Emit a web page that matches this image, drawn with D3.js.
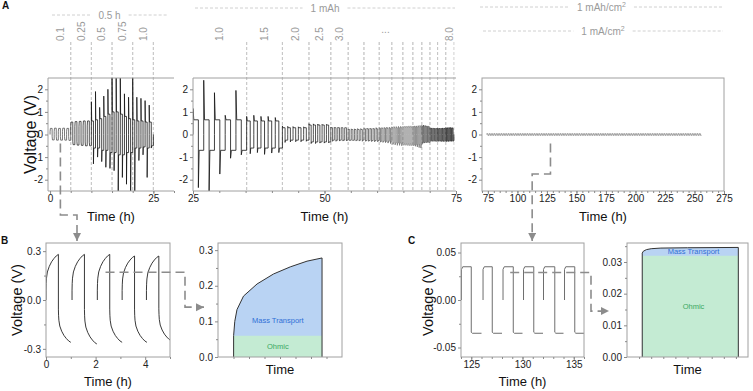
<!DOCTYPE html>
<html>
<head>
<meta charset="utf-8">
<script src="https://cdn.jsdelivr.net/npm/d3@7"></script>
<style>
  body { margin: 0; background: #fff; }
  svg { display: block; font-family: "Liberation Sans", Arial, sans-serif; }
  .tick text { font-family: "Liberation Sans Narrow", "Arial Narrow", "Liberation Sans", sans-serif; font-size: 10px; fill: #222; }
  .tick line { stroke: #8a8a8a; }
  .frame { fill: none; stroke: #a0a0a0; stroke-width: 1; }
  .title { font-size: 13px; fill: #111; }
  .note { font-size: 10px; fill: #9a9a9a; }
  .guide { stroke: #c4c4c4; stroke-width: 0.8; stroke-dasharray: 3,2; fill: none; }
  .conn { stroke: #8c8c8c; stroke-width: 1.6; stroke-dasharray: 9,5; fill: none; }
  .letter { font-size: 10px; font-weight: bold; fill: #111; }
</style>
</head>
<body>
<svg id="fig" width="753" height="391"></svg>
<script>

/////////////////////////////////////////////////////////////////
// Values
/////////////////////////////////////////////////////////////////

// A, first block: 0.5 h per half cycle, five current densities (mA/cm2)
var a1Bounds  = [0, 5, 10, 15, 20, 25];
var a1Labels  = ["0.1", "0.25", "0.5", "0.75", "1.0"];
var a1Title   = "0.5 h";
// one entry per 1 h cycle: first point after switching, plateau (V)
var a1UpSpike = [0.12, 0.13, 0.12, 0.13, 0.12,  0.35, 0.36, 0.36, 0.38, 0.38,
                 1.45, 1.9, 1.2, 1.7, 2.0,      2.6, 2.6, 2.6, 1.8, 1.65,
                 2.6, 1.65, 1.6, 1.5, 1.3];
var a1UpPlat  = [0.27, 0.28, 0.27, 0.28, 0.27,  0.55, 0.57, 0.58, 0.6, 0.6,
                 0.6, 0.65, 0.7, 0.8, 0.9,      1.0, 1.0, 0.9, 0.8, 0.7,
                 0.65, 0.6, 0.6, 0.55, 0.55];
var a1DnSpike = [-0.08, -0.08, -0.09, -0.09, -0.09,  -0.3, -0.32, -0.33, -0.33, -0.34,
                 -1.3, -1.0, -1.2, -1.45, -1.5,      -1.6, -2.6, -1.9, -2.2, -2.6,
                 -2.6, -1.15, -0.9, -1.9, -0.6];
var a1DnPlat  = [-0.24, -0.25, -0.25, -0.25, -0.26,  -0.45, -0.47, -0.48, -0.5, -0.5,
                 -0.6, -0.6, -0.7, -0.7, -0.8,        -0.8, -0.9, -0.9, -0.8, -0.8,
                 -0.6, -0.6, -0.55, -0.6, -0.5];

// A, second block: 1 mAh per half cycle, current density steps (mA/cm2)
var a2Bounds  = [25, 35.2, 42.0, 47.05, 51.2, 54.5, 57.5, 60.4, 62.8, 64.9,
                 66.8, 68.5, 70.05, 71.5, 73.05, 74.6];
var a2Labels  = ["1.0", "1.5", "2.0", "2.5", "3.0", "", "", "", "", "", "", "", "", "", "8.0"];
var a2Title   = "1 mAh";
var a2UpPlat  = [0.65, 0.6, 0.3, 0.42, 0.3, 0.22, 0.25, 0.28, 0.3, 0.32, 0.34, 0.36, 0.26, 0.26, 0.28];
var a2DnPlat  = [-0.7, -0.6, -0.25, -0.33, -0.25, -0.25, -0.27, -0.3, -0.38, -0.42, -0.45, -0.35, -0.28, -0.28, -0.28];
var a2UpSpike = [[1.15, 2.4, 1.85, 0.85, 1.95], [0.8, 0.85, 0.8, 0.8, 0.75], [0.38, 0.36, 0.35, 0.34, 0.34],
                 [0.48, 0.47, 0.46, 0.45, 0.45], [0.33, 0.32, 0.32, 0.31, 0.3], [0.25, 0.25, 0.25, 0.26, 0.26],
                 [0.27, 0.28, 0.28, 0.28, 0.3], [0.3, 0.3, 0.31, 0.32, 0.32], [0.34, 0.35, 0.35, 0.36, 0.36],
                 [0.36, 0.37, 0.37, 0.38, 0.38], [0.37, 0.38, 0.38, 0.39, 0.4], [0.4, 0.42, 0.4, 0.38, 0.36],
                 [0.3, 0.29, 0.29, 0.28, 0.28], [0.28, 0.28, 0.28, 0.29, 0.29], [0.3, 0.3, 0.31, 0.31, 0.3]];
var a2DnSpike = [[-2.35, -2.5, -1.75, -1.05, -0.9], [-0.85, -0.8, -0.88, -0.82, -0.8], [-0.35, -0.33, -0.32, -0.32, -0.3],
                 [-0.4, -0.4, -0.38, -0.38, -0.37], [-0.3, -0.3, -0.29, -0.29, -0.28], [-0.28, -0.28, -0.29, -0.29, -0.3],
                 [-0.3, -0.3, -0.31, -0.32, -0.32], [-0.34, -0.35, -0.36, -0.38, -0.4], [-0.44, -0.46, -0.48, -0.48, -0.5],
                 [-0.48, -0.48, -0.49, -0.5, -0.5], [-0.5, -0.52, -0.55, -0.58, -0.6], [-0.4, -0.38, -0.36, -0.34, -0.32],
                 [-0.3, -0.3, -0.3, -0.3, -0.31], [-0.3, -0.3, -0.31, -0.31, -0.31], [-0.31, -0.31, -0.3, -0.3, -0.3]];

// A, third block: 1 mAh/cm2 at 1 mA/cm2
var a3Title1  = "1 mAh/cm";
var a3Title2  = "1 mA/cm";
var a3Start   = 74;
var a3End     = 255;
var a3Up      = 0.035;
var a3Dn      = -0.035;

// B: zoom of the first 5 h, 0.1 mA/cm2
var bStarts   = [0, 1.05, 2.07, 3.07, 4.05];
var bHalf     = 0.5;
var bPeak     = [0.28, 0.28, 0.28, 0.27, 0.27];
var bTrough   = [-0.26, -0.27, -0.26, -0.26, -0.25];
var bProfT    = [0, 0, 0.013, 0.038, 0.112, 0.265, 0.451, 0.641, 0.83, 1];
var bProfV    = [0, 0.06, 0.10, 0.133, 0.171, 0.205, 0.233, 0.253, 0.269, 0.278];
var bProfFrom = 0.126;
var bProfTo   = 0.839;
var bOhmic    = 0.06;

// C: zoom of 124-136 h at 1 mA/cm2
var cStarts   = [124.05, 126.15, 128.1, 130.1, 132.05, 134.1];
var cSwitch   = [125.0, 127.05, 129.1, 131.1, 133.15, 135.1];
var cEnds     = [126.0, 128.0, 130.0, 132.0, 134.0, 136.0];
var cHigh     = 0.035;
var cLow      = -0.035;
var cProfT    = [0.126, 0.126, 0.135, 0.16, 0.2, 0.28, 0.5, 0.92, 0.92];
var cProfV    = [0, 0.0328, 0.0334, 0.0339, 0.0342, 0.0344, 0.0345, 0.0346, 0];
var cOhmic    = 0.032;

var massLabel  = "Mass Transport";
var ohmicLabel = "Ohmic";

/////////////////////////////////////////////////////////////////
// Scales
/////////////////////////////////////////////////////////////////

var svg = d3.select("#fig");
var defs = svg.append("defs");

var yA  = d3.scaleLinear().domain([-2.5, 2.5]).range([191, 78]);
var xA1 = d3.scaleLinear().domain([-0.5, 30]).range([48, 174]);
var xA2 = d3.scaleLinear().domain([25, 75]).range([193, 456]);
var xA3 = d3.scaleLinear().domain([70, 275]).range([482, 724]);

var xB  = d3.scaleLinear().domain([0, 5]).range([46, 170]);
var yB  = d3.scaleLinear().domain([-0.35, 0.35]).range([357, 243]);
var xBr = d3.scaleLinear().domain([0, 1]).range([218, 342]);
var yBr = d3.scaleLinear().domain([0, 0.32]).range([357, 243]);

var xC  = d3.scaleLinear().domain([124, 136]).range([461, 584]);
var yC  = d3.scaleLinear().domain([-0.06, 0.06]).range([357, 243]);
var xCr = d3.scaleLinear().domain([0, 1]).range([627, 748]);
var yCr = d3.scaleLinear().domain([0, 0.036]).range([357, 243]);

/////////////////////////////////////////////////////////////////
// Helpers
/////////////////////////////////////////////////////////////////

var clipCount = 0;
function clipFor(x, y) {
    var id = "clip" + (clipCount++);
    defs.append("clipPath").attr("id", id)
        .append("rect")
        .attr("x", x.range()[0]).attr("y", y.range()[1])
        .attr("width", x.range()[1] - x.range()[0])
        .attr("height", y.range()[0] - y.range()[1]);
    return "url(#" + id + ")";
}

function drawFrame(x, y, full) {
    var r = x.range(), t = y.range();
    if (full) {
        svg.append("rect").attr("class", "frame")
           .attr("x", r[0]).attr("y", t[1])
           .attr("width", r[1] - r[0]).attr("height", t[0] - t[1]);
    } else {
        svg.append("path").attr("class", "frame")
           .attr("d", "M" + r[0] + "," + t[1] + "H" + r[1] +
                      "M" + r[0] + "," + t[1] + "V" + t[0] + "H" + r[1]);
    }
}

function drawAxes(x, y, o) {
    var gx = svg.append("g")
        .attr("transform", "translate(0," + y.range()[0] + ")")
        .call(d3.axisBottom(x).tickValues(o.xTicks).tickSize(3).tickPadding(1)
                .tickFormat(o.xFmt || function(d) { return String(d); }));
    gx.select(".domain").remove();
    if (o.xMinor) {
        svg.append("g")
           .attr("transform", "translate(0," + y.range()[0] + ")")
           .call(d3.axisBottom(x).tickValues(o.xMinor).tickSize(2).tickFormat(""))
           .select(".domain").remove();
    }
    var gy = svg.append("g")
        .attr("transform", "translate(" + x.range()[0] + ",0)")
        .call(d3.axisLeft(y).tickValues(o.yTicks).tickSize(3).tickPadding(2)
                .tickFormat(o.yFmt || function(d) { return String(d); }));
    gy.select(".domain").remove();
    if (o.yMinor) {
        svg.append("g")
           .attr("transform", "translate(" + x.range()[0] + ",0)")
           .call(d3.axisLeft(y).tickValues(o.yMinor).tickSize(2).tickFormat(""))
           .select(".domain").remove();
    }
}

function xTitle(x, y, txt, off) {
    svg.append("text").attr("class", "title")
       .attr("x", (x.range()[0] + x.range()[1]) / 2)
       .attr("y", y.range()[0] + off)
       .attr("text-anchor", "middle")
       .text(txt);
}

function yTitle(cx, y, txt, size) {
    svg.append("text").attr("class", "title")
       .attr("transform", "translate(" + cx + "," + (y.range()[0] + y.range()[1]) / 2 + ") rotate(-90)")
       .attr("text-anchor", "middle").attr("dy", "0.35em")
       .style("font-size", size + "px")
       .text(txt);
}

// one charge / discharge cycle: spike right after switching, then plateau
function cycle(t0, h, upS, upP, dnS, dnP) {
    return [[t0, 0], [t0, upS], [t0 + 0.15 * h, upP], [t0 + h, upP],
            [t0 + h, dnS], [t0 + 1.15 * h, dnP], [t0 + 2 * h, dnP], [t0 + 2 * h, 0]];
}

function range(a, b, step) { return d3.range(a, b + step / 2, step); }

/////////////////////////////////////////////////////////////////
// Panel A
/////////////////////////////////////////////////////////////////

var a1Colors = ["#555", "#2a2a2a", "#151515", "#111", "#151515"];
var a2Colors = ["#111", "#151515", "#222", "#2a2a2a", "#444", "#555", "#555", "#666",
                "#777", "#888", "#777", "#555", "#444", "#333", "#222"];

// guides: section boundaries running up to the rotated labels
function sectionGuides(x, bounds, labels, skipFirst) {
    bounds.forEach(function(b, i) {
        if (skipFirst && i === 0) return;
        svg.append("line").attr("class", "guide")
           .attr("x1", x(b)).attr("x2", x(b))
           .attr("y1", 42).attr("y2", yA.range()[0]);
    });
    labels.forEach(function(l, i) {
        if (!l) return;
        var cx = x((bounds[i] + bounds[i + 1]) / 2);
        svg.append("text").attr("class", "note")
           .attr("transform", "translate(" + cx + ",41) rotate(-90)")
           .attr("dy", "0.35em")
           .text(l);
    });
}

function headerLine(y, x0, x1, txt, sup) {
    var t = svg.append("text").attr("class", "note")
       .attr("x", (x0 + x1) / 2).attr("y", y + 3.5)
       .attr("text-anchor", "middle")
       .text(txt);
    if (sup) t.append("tspan").attr("dy", -4).style("font-size", "7px").text(sup);
    var w = t.node().getComputedTextLength();
    var cx = (x0 + x1) / 2;
    svg.append("line").attr("class", "guide").attr("x1", x0).attr("x2", cx - w / 2 - 8).attr("y1", y).attr("y2", y);
    svg.append("line").attr("class", "guide").attr("x1", cx + w / 2 + 8).attr("x2", x1).attr("y1", y).attr("y2", y);
}

sectionGuides(xA1, a1Bounds.slice(1), [], false);
sectionGuides(xA1, a1Bounds, a1Labels, true);
sectionGuides(xA2, a2Bounds.slice(1, a2Bounds.length - 1), [], false);
sectionGuides(xA2, a2Bounds, a2Labels, true);
svg.append("text").attr("class", "note")
   .attr("x", xA2((a2Bounds[7] + a2Bounds[8]) / 2)).attr("y", 33)
   .attr("text-anchor", "middle").text("...");

headerLine(15, 52, 167, a1Title);
headerLine(8, 195, 455, a2Title);
headerLine(7, 480, 723, a3Title1, "2");
headerLine(31, 483, 723, a3Title2, "2");

var line = function(x, y) {
    return d3.line().x(function(d) { return x(d[0]); }).y(function(d) { return y(d[1]); });
};

// A1 data
var gA1 = svg.append("g").attr("clip-path", clipFor(xA1, yA));
a1UpSpike.forEach(function(v, i) {
    var s = Math.floor(i / 5);
    var t0 = a1Bounds[s] + (i % 5);
    gA1.append("path")
       .attr("d", line(xA1, yA)(cycle(t0, 0.5, a1UpSpike[i], a1UpPlat[i], a1DnSpike[i], a1DnPlat[i])))
       .attr("fill", "none").attr("stroke", a1Colors[s]).attr("stroke-width", 0.8);
});

// A2 data
var gA2 = svg.append("g").attr("clip-path", clipFor(xA2, yA));
a2UpPlat.forEach(function(p, s) {
    var len = (a2Bounds[s + 1] - a2Bounds[s]) / 5;
    for (var k = 0; k < 5; k++) {
        var t0 = a2Bounds[s] + k * len;
        gA2.append("path")
           .attr("d", line(xA2, yA)(cycle(t0, len / 2, a2UpSpike[s][k], a2UpPlat[s], a2DnSpike[s][k], a2DnPlat[s])))
           .attr("fill", "none").attr("stroke", a2Colors[s]).attr("stroke-width", 0.8);
    }
});

// A3 data
var a3Pts = [];
for (var t = a3Start; t < a3End; t += 2) {
    a3Pts.push([t, 0], [t, a3Up], [t + 1, a3Up], [t + 1, a3Dn], [t + 2, a3Dn]);
}
svg.append("path").attr("d", line(xA3, yA)(a3Pts))
   .attr("fill", "none").attr("stroke", "#777").attr("stroke-width", 0.7);

drawFrame(xA1, yA, false);
drawFrame(xA2, yA, false);
drawFrame(xA3, yA, true);

var aYOpts = {yTicks: [-2, -1, 0, 1, 2], yMinor: [-1.5, -0.5, 0.5, 1.5]};
drawAxes(xA1, yA, Object.assign({xTicks: [0, 25], xMinor: range(5, 30, 5)}, aYOpts));
drawAxes(xA2, yA, Object.assign({xTicks: [25, 50, 75], xMinor: range(30, 70, 5)}, aYOpts));
drawAxes(xA3, yA, Object.assign({xTicks: range(75, 275, 25), xMinor: range(70, 275, 5)}, aYOpts));

xTitle(xA1, yA, "Time (h)", 30);
xTitle(xA2, yA, "Time (h)", 30);
xTitle(xA3, yA, "Time (h)", 30);
yTitle(30, yA, "Voltage (V)", 16);

/////////////////////////////////////////////////////////////////
// Panel B
/////////////////////////////////////////////////////////////////

var gB = svg.append("g").attr("clip-path", clipFor(xB, yB));
bStarts.forEach(function(t0, k) {
    var pts = [];
    bProfT.forEach(function(f, j) {
        pts.push([t0 + f * bHalf, bProfV[j] * bPeak[k] / bProfV[bProfV.length - 1]]);
    });
    bProfT.forEach(function(f, j) {
        if (j === 0) return;
        pts.push([t0 + bHalf + f * bHalf, bProfV[j] * bTrough[k] / bProfV[bProfV.length - 1]]);
    });
    gB.append("path").attr("d", line(xB, yB)(pts))
      .attr("fill", "none").attr("stroke", "#222").attr("stroke-width", 0.9);
});
drawFrame(xB, yB, true);
drawAxes(xB, yB, {xTicks: [0, 2, 4], xMinor: [1, 3, 5], yTicks: [-0.3, 0, 0.3],
                  yMinor: [-0.15, 0.15], yFmt: function(d) { return d.toFixed(1); }});
xTitle(xB, yB, "Time (h)", 29);
yTitle(17, yB, "Voltage (V)", 14.5);

// B, right: split of one half cycle
var bCurve = bProfT.map(function(f, j) {
    return [bProfFrom + f * (bProfTo - bProfFrom), bProfV[j]];
});
svg.append("path")
   .attr("d", d3.area().x(function(d) { return xBr(d[0]); })
                       .y0(yBr(0)).y1(function(d) { return yBr(d[1]); })(bCurve))
   .attr("fill", "#b9d3f3");
svg.append("path")
   .attr("d", d3.area().x(function(d) { return xBr(d[0]); })
                       .y0(yBr(0)).y1(yBr(bOhmic))([[bProfFrom], [bProfTo]]))
   .attr("fill", "#c4ebd3");
svg.append("path")
   .attr("d", line(xBr, yBr)([[bProfFrom, 0]].concat(bCurve, [[bProfTo, 0]])))
   .attr("fill", "none").attr("stroke", "#333").attr("stroke-width", 1);
drawFrame(xBr, yBr, true);
drawAxes(xBr, yBr, {xTicks: [], xMinor: range(0.125, 0.875, 0.125), yTicks: [0, 0.1, 0.2, 0.3],
                    yMinor: [0.05, 0.15, 0.25], yFmt: function(d) { return d.toFixed(1); }});
xTitle(xBr, yBr, "Time", 17);
svg.append("text").attr("x", xBr((bProfFrom + bProfTo) / 2)).attr("y", yBr(0.1) + 1.5)
   .attr("text-anchor", "middle").style("font-size", "7.5px").style("fill", "#2f6fd6").text(massLabel);
svg.append("text").attr("x", xBr((bProfFrom + bProfTo) / 2)).attr("y", yBr(bOhmic / 2) + 2.5)
   .attr("text-anchor", "middle").style("font-size", "7.5px").style("fill", "#3aa862").text(ohmicLabel);

/////////////////////////////////////////////////////////////////
// Panel C
/////////////////////////////////////////////////////////////////

var gC = svg.append("g").attr("clip-path", clipFor(xC, yC));
cStarts.forEach(function(t0, k) {
    var pts = [[t0, 0], [t0, cHigh * 0.92], [t0 + 0.12, cHigh], [cSwitch[k], cHigh],
               [cSwitch[k], cLow * 0.97], [cSwitch[k] + 0.1, cLow], [cEnds[k], cLow]];
    gC.append("path").attr("d", line(xC, yC)(pts))
      .attr("fill", "none").attr("stroke", "#6e6e6e").attr("stroke-width", 1);
});
drawFrame(xC, yC, true);
drawAxes(xC, yC, {xTicks: [125, 130, 135], xMinor: range(124, 136, 1), yTicks: [-0.05, 0, 0.05],
                  yMinor: [-0.025, 0.025], yFmt: function(d) { return d.toFixed(2); }});
xTitle(xC, yC, "Time (h)", 29);
yTitle(428, yC, "Voltage (V)", 14.5);

// C, right
var cCurve = cProfT.map(function(f, j) { return [f, cProfV[j]]; });
svg.append("path")
   .attr("d", d3.area().x(function(d) { return xCr(d[0]); })
                       .y0(yCr(0)).y1(function(d) { return yCr(d[1]); })(cCurve))
   .attr("fill", "#b9d3f3");
svg.append("path")
   .attr("d", d3.area().x(function(d) { return xCr(d[0]); })
                       .y0(yCr(0)).y1(yCr(cOhmic))([[cProfT[0]], [cProfT[cProfT.length - 1]]]))
   .attr("fill", "#c4ebd3");
svg.append("path").attr("d", line(xCr, yCr)(cCurve))
   .attr("fill", "none").attr("stroke", "#333").attr("stroke-width", 1);
drawFrame(xCr, yCr, true);
drawAxes(xCr, yCr, {xTicks: [], xMinor: range(0.1, 0.9, 0.1), yTicks: [0, 0.01, 0.02, 0.03],
                    yMinor: [0.005, 0.015, 0.025, 0.035], yFmt: function(d) { return d.toFixed(2); }});
xTitle(xCr, yCr, "Time", 17);
svg.append("text").attr("x", xCr(0.55)).attr("y", yCr((cOhmic + 0.0345) / 2) + 2.5)
   .attr("text-anchor", "middle").style("font-size", "7.5px").style("fill", "#2f6fd6").text(massLabel);
svg.append("text").attr("x", xCr(0.55)).attr("y", yCr(cOhmic / 2) + 2.5)
   .attr("text-anchor", "middle").style("font-size", "7.5px").style("fill", "#3aa862").text(ohmicLabel);

/////////////////////////////////////////////////////////////////
// Dashed connectors with arrow heads
/////////////////////////////////////////////////////////////////

defs.append("marker").attr("id", "arr")
    .attr("markerUnits", "userSpaceOnUse")
    .attr("markerWidth", 9).attr("markerHeight", 9)
    .attr("refX", 8).attr("refY", 4).attr("orient", "auto")
    .append("path").attr("d", "M0,0L8,4L0,8z").attr("fill", "#8c8c8c");

function connector(pts) {
    svg.append("path").attr("class", "conn")
       .attr("d", d3.line()(pts))
       .attr("marker-end", "url(#arr)");
}

connector([[xA1(2.5), yA(-0.4)], [xA1(2.5), 215], [xB(1.25), 215], [xB(1.25), yB.range()[1] - 2]]);
connector([[xB(2.4), yB(0.17)], [185, yB(0.17)], [185, yBr(0.14)], [xBr.range()[0] - 14, yBr(0.14)]]);
connector([[xA3(128), yA(-0.4)], [xA3(128), 174], [xA3(112.5), 174], [xA3(112.5), yC.range()[1] - 2]]);
connector([[xC(128.8), yC(0.029)], [591, yC(0.029)], [591, yCr(0.0145)], [xCr.range()[0] - 18, yCr(0.0145)]]);

// panel letters
svg.append("text").attr("class", "letter").attr("x", 2).attr("y", 9).text("A");
svg.append("text").attr("class", "letter").attr("x", 1).attr("y", 244).text("B");
svg.append("text").attr("class", "letter").attr("x", 408).attr("y", 244).text("C");

</script>
</body>
</html>
